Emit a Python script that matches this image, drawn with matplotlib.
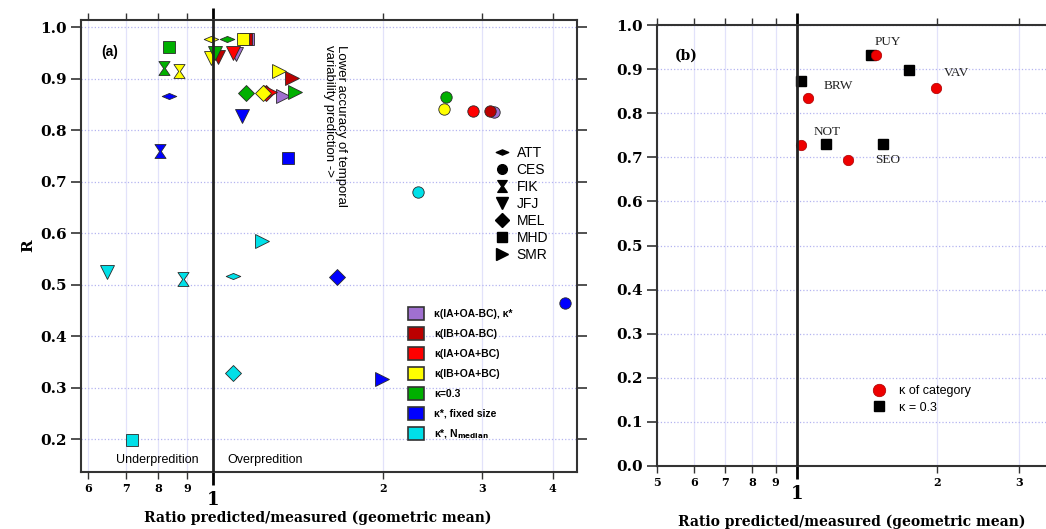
import matplotlib
matplotlib.use('Agg')
import matplotlib.pyplot as plt
from matplotlib.path import Path
from matplotlib.patches import Patch
from matplotlib.lines import Line2D

# station names (legend order)
stations = ['ATT', 'CES', 'FIK', 'JFJ', 'MEL', 'MHD', 'SMR']

# panel (a): ratio predicted/measured and R, one set of lists per kappa case
purple_stn = ['CES', 'JFJ', 'MHD', 'SMR']
purple_ratio = [3.15, 1.10, 1.155, 1.33]
purple_r = [0.835, 0.948, 0.977, 0.866]

darkred_stn = ['CES', 'JFJ', 'MHD', 'SMR']
darkred_ratio = [3.10, 1.02, 1.146, 1.38]
darkred_r = [0.837, 0.942, 0.977, 0.901]

red_stn = ['CES', 'JFJ', 'MEL', 'SMR']
red_ratio = [2.89, 1.085, 1.24, 1.26]
red_r = [0.837, 0.950, 0.872, 0.874]

yellow_stn = ['ATT', 'CES', 'FIK', 'JFJ', 'MEL', 'MHD', 'SMR']
yellow_ratio = [0.99, 2.57, 0.870, 0.99, 1.226, 1.13, 1.31]
yellow_r = [0.977, 0.841, 0.915, 0.940, 0.872, 0.977, 0.915]

green_stn = ['ATT', 'CES', 'FIK', 'JFJ', 'MEL', 'MHD', 'SMR']
green_ratio = [1.06, 2.59, 0.819, 1.008, 1.144, 0.836, 1.40]
green_r = [0.977, 0.864, 0.920, 0.950, 0.872, 0.961, 0.874]

blue_stn = ['ATT', 'CES', 'FIK', 'JFJ', 'MEL', 'MHD', 'SMR']
blue_ratio = [0.836, 4.21, 0.805, 1.126, 1.66, 1.36, 1.99]
blue_r = [0.866, 0.464, 0.759, 0.827, 0.515, 0.746, 0.317]

cyan_stn = ['ATT', 'CES', 'FIK', 'JFJ', 'MEL', 'MHD', 'SMR']
cyan_ratio = [1.085, 2.31, 0.885, 0.649, 1.085, 0.718, 1.22]
cyan_r = [0.517, 0.680, 0.511, 0.524, 0.328, 0.198, 0.584]

case_labels = ['κ(IA+OA-BC), κ*', 'κ(IB+OA-BC)', 'κ(IA+OA+BC)', 'κ(IB+OA+BC)',
               'κ=0.3', 'κ*, fixed size', 'κ*, N$_{\\mathbf{median}}$']

# panel (b): sites, kappa of category (red) and kappa = 0.3 (black)
sites_b = ['PUY', 'VAV', 'BRW', 'NOT', 'SEO']
cat_ratio = [1.48, 1.99, 1.056, 1.02, 1.29]
cat_r = [0.932, 0.857, 0.835, 0.728, 0.694]
k03_ratio = [1.44, 1.74, 1.02, 1.155, 1.53]
k03_r = [0.932, 0.898, 0.873, 0.730, 0.730]

# marker shapes
att_path = Path([(-1, 0), (0, 0.42), (1, 0), (0, -0.42), (-1, 0)],
                [Path.MOVETO, Path.LINETO, Path.LINETO, Path.LINETO, Path.CLOSEPOLY])
fik_path = Path([(-0.8, 1), (0.8, 1), (0.12, 0), (0.8, -1), (-0.8, -1), (-0.12, 0), (-0.8, 1)],
                [Path.MOVETO] + [Path.LINETO] * 5 + [Path.CLOSEPOLY])
markers = {'ATT': att_path, 'CES': 'o', 'FIK': fik_path, 'JFJ': 'v',
           'MEL': 'D', 'MHD': 's', 'SMR': '>'}
msizes = {'ATT': 10.5, 'CES': 8.2, 'FIK': 10, 'JFJ': 9.5, 'MEL': 7.8, 'MHD': 8, 'SMR': 9.5}

colors = ['#a070d0', '#bb0000', '#ff0000', '#ffff00', '#00b000', '#0000ff', '#00e0e8']
grid_h = '#b4b4f0'
grid_v = '#e2e2fa'
spine_c = '#333333'
serif = 'DejaVu Serif'
sans = 'Liberation Sans'

fig = plt.figure(figsize=(10.46, 5.29), dpi=100)
ax = fig.add_axes([0.0774, 0.1078, 0.4742, 0.8544])
axb = fig.add_axes([0.6281, 0.1191, 0.3757, 0.8336])


def style_axis(a, minor_ticks, minor_labels, ylim, yticks):
    a.set_xscale('log')
    a.set_xticks([1], labels=['1'])
    a.set_xticks(minor_ticks, labels=minor_labels, minor=True)
    a.set_ylim(*ylim)
    a.set_yticks(yticks, labels=['%.1f' % v for v in yticks])
    a.tick_params(axis='x', which='major', direction='out', length=9, width=2,
                  top=True, labelsize=13, pad=5, color='black')
    a.tick_params(axis='x', which='minor', direction='out', length=5, width=1,
                  top=True, labelsize=8, pad=3, color=spine_c)
    a.tick_params(axis='y', direction='out', length=7, width=1.2, right=True,
                  labelsize=11, color=spine_c)
    for lbl in a.get_xticklabels(which='both') + a.get_yticklabels():
        lbl.set_fontfamily(serif)
        lbl.set_fontweight('bold')
    for s in a.spines.values():
        s.set_color(spine_c)
        s.set_linewidth(1.5)
    a.grid(axis='y', which='major', color=grid_h, linestyle=':', linewidth=0.9)
    a.grid(axis='x', which='minor', color=grid_v, linestyle='-', linewidth=0.9)
    a.grid(axis='x', which='major', visible=False)
    a.set_axisbelow(True)
    a.axvline(1, color='#222222', linewidth=2, zorder=4)


# ---- panel (a)
style_axis(ax, [0.6, 0.7, 0.8, 0.9, 2, 3, 4], ['6', '7', '8', '9', '2', '3', '4'],
           (0.136, 1.0136), [0.2, 0.3, 0.4, 0.5, 0.6, 0.7, 0.8, 0.9, 1.0])
ax.set_xlim(0.5834, 4.418)

cases = [(purple_stn, purple_ratio, purple_r),
         (darkred_stn, darkred_ratio, darkred_r),
         (red_stn, red_ratio, red_r),
         (yellow_stn, yellow_ratio, yellow_r),
         (green_stn, green_ratio, green_r),
         (blue_stn, blue_ratio, blue_r),
         (cyan_stn, cyan_ratio, cyan_r)]
for (stn, xs, ys), c in zip(cases, colors):
    for s, x, y in zip(stn, xs, ys):
        ax.plot(x, y, linestyle='none', marker=markers[s], markersize=msizes[s],
                markerfacecolor=c, markeredgecolor='#2a2a2a', markeredgewidth=0.6, zorder=3)

ax.text(0.04, 0.93, '(a)', transform=ax.transAxes, fontsize=10, fontweight='bold',
        family=sans, va='center')
ax.text(1.645, 0.808, 'Lower accuracy of temporal\nvariability prediction ->', rotation=-90,
        ha='center', va='center', ma='left', fontsize=9.5, family=sans, linespacing=1.0)
ax.text(0.796, 0.159, 'Underpredition', ha='center', va='center', fontsize=9, family=sans)
ax.text(1.236, 0.159, 'Overpredition', ha='center', va='center', fontsize=9, family=sans)
ax.set_ylabel('R', fontsize=11, fontweight='bold', family=serif, labelpad=3)

stn_handles = [Line2D([], [], linestyle='none', marker=markers[s], markersize=msizes[s] * 0.85,
                      color='black') for s in stations]
leg1 = ax.legend(stn_handles, stations, loc='upper left', bbox_to_anchor=(0.835, 0.722),
                 frameon=False, prop={'family': sans, 'size': 10}, handlelength=1.0,
                 handletextpad=0.55, labelspacing=0.22, borderpad=0, borderaxespad=0)
ax.add_artist(leg1)
case_handles = [Patch(facecolor=c, edgecolor='#333333', linewidth=1.2) for c in colors]
ax.legend(case_handles, case_labels, loc='upper left', bbox_to_anchor=(0.659, 0.366),
          frameon=False, prop={'family': sans, 'size': 7.5, 'weight': 'bold'},
          handlelength=1.55, handleheight=1.63, handletextpad=1.0, labelspacing=0.62,
          borderpad=0, borderaxespad=0)

# ---- panel (b)
style_axis(axb, [0.5, 0.6, 0.7, 0.8, 0.9, 2, 3], ['5', '6', '7', '8', '9', '2', '3'],
           (0.0, 1.0), [0.0, 0.1, 0.2, 0.3, 0.4, 0.5, 0.6, 0.7, 0.8, 0.9, 1.0])
axb.set_xlim(0.5, 3.5)
axb.plot(k03_ratio, k03_r, linestyle='none', marker='s', markersize=7.5, color='black', zorder=3)
axb.plot(cat_ratio, cat_r, linestyle='none', marker='o', markersize=7.5,
         markerfacecolor='#ee0000', markeredgecolor='#aa0000', markeredgewidth=0.5, zorder=3)

label_xy = {'PUY': (1.57, 0.961), 'VAV': (2.20, 0.891), 'BRW': (1.23, 0.862),
            'NOT': (1.16, 0.757), 'SEO': (1.57, 0.694)}
for s in sites_b:
    axb.text(label_xy[s][0], label_xy[s][1], s, ha='center', va='center',
             fontsize=9.5, family='Liberation Serif', color='#222222')
axb.text(0.045, 0.93, '(b)', transform=axb.transAxes, fontsize=10, fontweight='bold',
         family=serif, va='center')
b_handles = [Line2D([], [], linestyle='none', marker='o', markersize=9, markerfacecolor='#ee0000',
                    markeredgecolor='#aa0000', markeredgewidth=0.5),
             Line2D([], [], linestyle='none', marker='s', markersize=7, color='black')]
axb.legend(b_handles, ['κ of category', 'κ = 0.3'], loc='upper left', bbox_to_anchor=(0.545, 0.183),
           frameon=False, prop={'family': sans, 'size': 9}, handlelength=1.2,
           handletextpad=1.0, labelspacing=0.35, borderpad=0, borderaxespad=0)

fig.text(0.304, 0.021, 'Ratio predicted/measured (geometric mean)', ha='center', va='center',
         fontsize=10, fontweight='bold', family=serif)
fig.text(0.814, 0.013, 'Ratio predicted/measured (geometric mean)', ha='center', va='center',
         fontsize=10, fontweight='bold', family=serif)

fig.savefig('out.png', dpi=100)
